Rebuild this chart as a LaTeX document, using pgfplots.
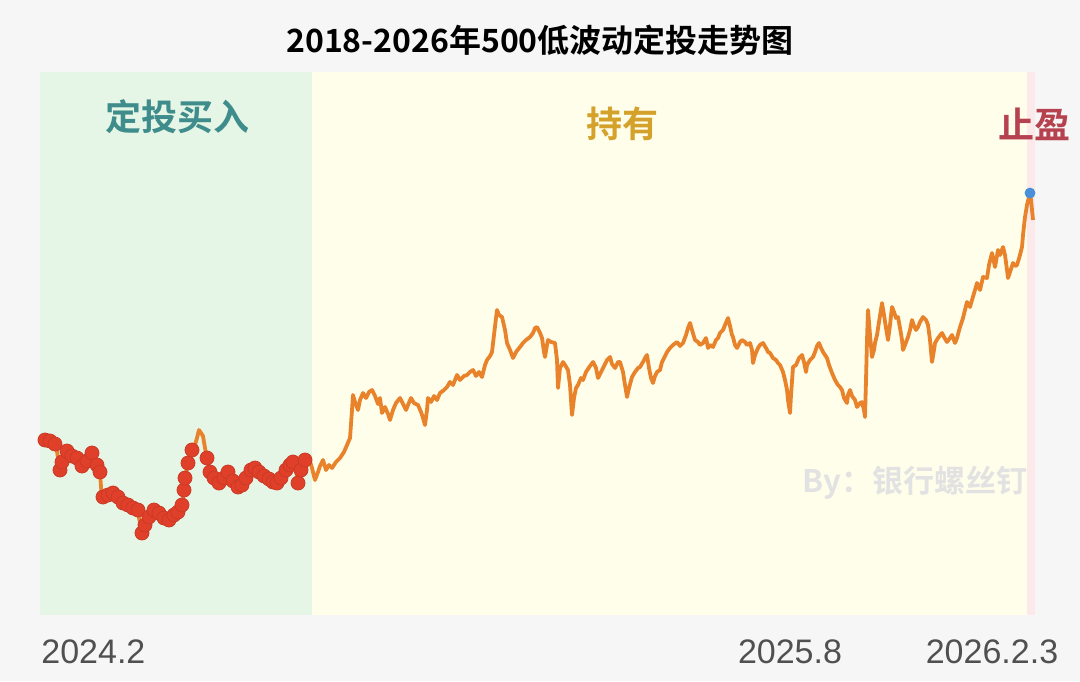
\documentclass[border=0pt]{standalone}
\usepackage{pgfplots}
\pgfplotsset{compat=1.18}
\usepackage{pgfplotstable}
\usepackage{fontspec}
\setmainfont{Liberation Sans}
\newfontfamily\cjk{Noto Sans CJK SC}[BoldFont={Noto Sans CJK SC Bold}]
\definecolor{bgc}{HTML}{F6F6F6}
\definecolor{greenbg}{HTML}{E6F6E6}
\definecolor{yellowbg}{HTML}{FFFEEB}
\definecolor{pinkbg}{HTML}{FCE9EA}
\definecolor{tealtxt}{HTML}{3F8C8C}
\definecolor{goldtxt}{HTML}{D4A22A}
\definecolor{redtxt}{HTML}{B5424E}
\definecolor{marktxt}{HTML}{E2E2E2}
\definecolor{labtxt}{HTML}{505050}
\definecolor{lineor}{HTML}{E8832C}
\definecolor{reddot}{HTML}{E0402A}
\definecolor{bluedot}{HTML}{4A90D9}

\pgfplotstableread{
px py
44 440
47 442
50 441
53 443
56 445
58 458
60 470
62 463
65 453
68 450
71 456
74 461
77 458
80 463
83 467
86 462
89 457
92 453
95 460
97 465
100 472
101 487
102 498
105 497
109 495
113 493
116 496
120 500
123 503
127 505
131 507
134 508
137 507
139 518
142 533
144 527
147 520
150 514
153 511
156 510
159 513
163 517
167 520
171 518
174 515
177 513
180 510
182 505
183 500
184 488
185 478
187 468
188 463
190 457
192 450
195 445
197 438
199 430
201 433
203 436
205 448
207 458
209 468
211 475
214 478
217 481
220 483
223 479
226 475
228 472
231 478
234 482
237 486
240 490
243 484
246 478
250 472
253 467
256 469
259 472
263 475
266 477
270 479
274 482
277 483
280 479
283 474
287 469
290 465
293 462
296 470
298 483
300 472
303 462
306 457
308 455
}\greendata

\pgfplotstableread{
px py
45 440
50 441
55 444
60 470
62 462
67 451
72 456
77 458
82 466
87 461
92 453
97 465
100 472
103 497
108 495
113 493
118 497
123 503
128 505
133 508
138 510
142 533
145 525
149 517
154 510
159 513
164 518
169 520
174 515
178 512
182 505
184 490
185 478
188 463
192 450
207 458
210 472
214 478
219 483
224 478
228 472
233 481
238 487
242 485
246 478
251 470
255 468
259 472
264 476
269 479
273 482
277 483
281 478
286 470
290 465
293 462
298 483
301 470
305 460
}\dotdata

\pgfplotstableread{
px py
308 455
312 468
315 480
318 472
320 466
323 460
326 470
329 465
332 468
336 462
340 458
344 452
347 445
350 438
352 410
353 395
355 402
358 410
360 400
363 393
366 398
369 392
372 390
375 396
378 404
380 398
382 413
385 407
388 414
390 420
393 410
396 403
400 398
403 404
406 410
408 405
411 398
414 403
418 405
421 412
423 418
425 425
427 410
428 398
431 402
434 396
437 400
440 393
444 390
447 387
450 382
453 385
457 375
460 380
464 376
467 375
470 372
473 370
476 376
479 372
482 377
485 365
487 360
490 356
492 352
494 335
496 318
497 310
499 315
502 317
505 330
507 343
510 350
513 358
516 352
520 347
523 343
526 340
530 337
533 333
535 328
537 327
540 333
542 338
544 352
545 357
547 345
548 340
551 342
555 343
557 360
558 388
560 368
563 362
565 365
568 370
570 385
572 415
574 398
576 388
578 385
581 378
583 380
586 372
590 366
593 362
596 368
598 378
601 372
604 366
607 360
610 357
612 364
615 368
618 362
620 362
623 372
625 385
627 397
629 388
632 377
635 372
638 368
640 367
643 362
645 358
647 355
649 368
651 378
653 383
655 376
657 372
660 370
662 362
665 356
667 352
670 348
673 345
677 342
680 346
683 343
686 335
688 328
690 323
692 330
695 340
698 342
700 345
703 343
706 338
708 348
710 345
713 347
716 340
718 338
720 333
723 330
725 325
728 318
730 326
732 335
733 337
735 345
737 348
740 342
742 340
745 342
747 345
750 343
752 350
753 363
755 355
758 348
760 345
763 343
766 348
768 352
770 353
773 358
776 360
778 363
780 365
783 372
785 380
787 390
788 400
790 413
791 395
793 367
796 365
799 358
802 355
804 362
806 372
807 365
810 360
813 357
815 352
817 346
819 343
821 348
823 352
825 355
827 358
829 365
832 373
835 380
838 385
840 387
842 390
844 398
847 403
848 395
850 390
852 396
855 400
857 407
860 403
862 402
864 410
865 417
866 380
867 340
868 310
870 335
872 357
874 350
875 343
877 335
879 322
882 303
884 315
886 328
888 340
890 325
892 307
894 312
896 318
898 317
900 328
902 340
903 350
905 345
908 337
910 330
912 320
914 326
916 330
918 327
920 322
923 317
926 320
928 325
930 340
932 362
934 350
935 343
938 338
942 333
944 337
947 342
950 338
952 335
955 343
957 338
960 327
963 318
965 310
967 302
970 307
972 300
975 290
977 283
980 290
983 277
987 278
989 265
992 253
995 267
998 250
1000 255
1003 247
1005 255
1007 270
1008 278
1010 272
1013 263
1015 266
1017 265
1020 255
1022 247
1023 235
1025 217
1027 205
1030 193
1031 200
1033 220
}\yellowdata

\begin{document}
\begin{tikzpicture}
\fill[bgc] (-20pt,-33pt) rectangle (520pt,307.5pt);
\begin{axis}[at={(0,0)}, anchor=south west, scale only axis,
  width=497.5pt, height=271.5pt,
  xmin=40, xmax=1035, ymin=0, ymax=543,
  hide axis, clip=false]
\fill[greenbg] (axis cs:40,0) rectangle (axis cs:312,543);
\fill[yellowbg] (axis cs:312,0) rectangle (axis cs:1027,543);
\fill[pinkbg] (axis cs:1027,0) rectangle (axis cs:1035,543);
\addplot[lineor, line width=1.9pt, line join=round, no markers] table[x=px, y expr=615-\thisrow{py}] {\greendata};
\addplot[lineor, line width=1.9pt, line join=round, no markers] table[x=px, y expr=615-\thisrow{py}] {\yellowdata};
\addplot[only marks, mark=*, mark size=3.5pt, mark options={fill=reddot, draw=reddot!90!black}] table[x=px, y expr=615-\thisrow{py}] {\dotdata};
\addplot[only marks, mark=*, mark size=2.5pt, mark options={fill=bluedot, draw=bluedot}] coordinates {(1030,422)};
\node[font=\cjk\bfseries\fontsize{16}{18}\selectfont, text=black] at (axis cs:540,575) {2018-2026年500低波动定投走势图};
\node[font=\cjk\bfseries\fontsize{18}{20}\selectfont, text=tealtxt] at (axis cs:177,498) {定投买入};
\node[font=\cjk\bfseries\fontsize{18}{20}\selectfont, text=goldtxt] at (axis cs:622,491) {持有};
\node[font=\cjk\bfseries\fontsize{18}{20}\selectfont, text=redtxt] at (axis cs:1034,491) {止盈};
\node[font=\cjk\bfseries\fontsize{15.5}{17}\selectfont, text=marktxt] at (axis cs:915,132) {By：银行螺丝钉};
\node[font=\fontsize{17}{19}\selectfont, text=labtxt, anchor=west, inner sep=0pt] at (axis cs:41,-37) {2024.2};
\node[font=\fontsize{17}{19}\selectfont, text=labtxt, inner sep=0pt] at (axis cs:790,-37) {2025.8};
\node[font=\fontsize{17}{19}\selectfont, text=labtxt, inner sep=0pt] at (axis cs:992,-37) {2026.2.3};
\end{axis}
\end{tikzpicture}
\end{document}
